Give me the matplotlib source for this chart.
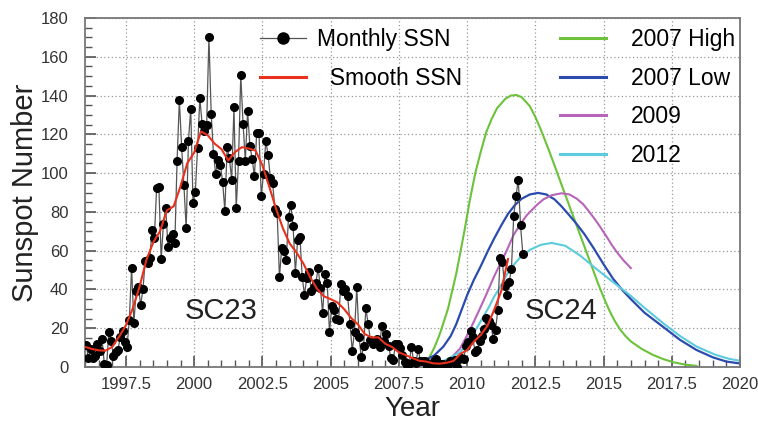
import numpy as np
import matplotlib
matplotlib.use("Agg")
import matplotlib.pyplot as plt
from matplotlib.lines import Line2D
from matplotlib.ticker import MultipleLocator

plt.rcParams["font.family"] = ["Liberation Sans", "DejaVu Sans"]

# === DATA ===
# monthly sunspot number, Jan 1996 .. Jan 2012
ssn_start = 1996
ssn_monthly = [
    11.5, 4.4, 9.2, 4.8, 5.5, 11.8, 8.2, 14.4, 1.6, 0.9, 17.9, 13.3,          # 1996
    5.7, 7.6, 8.7, 15.5, 18.5, 12.7, 10.4, 24.4, 51.3, 22.8, 39.0, 41.2,      # 1997
    31.9, 40.3, 54.8, 53.4, 56.3, 70.7, 66.6, 92.2, 92.9, 55.5, 74.0, 81.9,   # 1998
    62.0, 66.3, 68.8, 63.7, 106.4, 137.7, 113.5, 93.7, 71.5, 116.7, 133.2, 84.6,  # 1999
    90.1, 112.9, 138.5, 125.5, 121.6, 124.9, 170.1, 130.5, 109.7, 99.4, 106.8, 104.4,  # 2000
    95.6, 80.6, 113.5, 107.7, 96.6, 134.0, 81.8, 106.4, 150.7, 125.5, 106.5, 132.2,  # 2001
    114.1, 107.4, 98.4, 120.7, 120.8, 88.3, 99.6, 116.4, 109.6, 97.5, 95.0, 81.6,  # 2002
    79.5, 46.2, 61.5, 60.0, 55.2, 77.4, 83.3, 72.7, 48.7, 65.5, 67.3, 46.5,   # 2003
    37.3, 45.8, 49.1, 39.3, 41.5, 43.2, 51.1, 40.9, 27.7, 48.0, 43.5, 17.9,   # 2004
    31.3, 29.2, 24.5, 24.2, 42.7, 39.3, 40.1, 36.4, 22.1, 8.5, 18.0, 41.2,    # 2005
    15.3, 4.9, 10.6, 30.2, 22.3, 13.9, 12.0, 12.9, 14.4, 10.5, 21.4, 13.6,    # 2006
    16.9, 10.6, 4.8, 3.7, 11.7, 12.0, 10.0, 6.2, 2.4, 0.9, 1.7, 10.1,         # 2007
    3.3, 2.1, 9.3, 2.9, 2.9, 3.1, 0.5, 0.5, 1.1, 2.9, 4.1, 0.8,               # 2008
    1.5, 1.4, 0.7, 1.2, 2.9, 2.6, 3.5, 0.0, 4.2, 4.6, 4.2, 10.6,              # 2009
    13.1, 18.6, 15.4, 7.9, 8.8, 13.5, 16.1, 19.6, 25.2, 23.5, 21.6, 14.5,     # 2010
    19.0, 29.4, 56.2, 54.4, 41.6, 37.0, 43.9, 50.6, 78.0, 88.0, 96.7, 73.0,   # 2011
    58.3,                                                                     # 2012
]

# smoothed SSN
smooth_year = [1996.0, 1996.25, 1996.5, 1996.75, 1997.0, 1997.25, 1997.5, 1997.75,
               1998.0, 1998.25, 1998.5, 1998.75, 1999.0, 1999.25, 1999.5, 1999.75,
               2000.0, 2000.25, 2000.5, 2000.75, 2001.0, 2001.25, 2001.5, 2001.75,
               2002.0, 2002.25, 2002.5, 2002.75, 2003.0, 2003.25, 2003.5, 2003.75,
               2004.0, 2004.25, 2004.5, 2004.75, 2005.0, 2005.25, 2005.5, 2005.75,
               2006.0, 2006.25, 2006.5, 2006.75, 2007.0, 2007.25, 2007.5, 2007.75,
               2008.0, 2008.25, 2008.5, 2008.75, 2009.0, 2009.25, 2009.5, 2009.75,
               2010.0, 2010.25, 2010.5, 2010.75, 2011.0, 2011.25, 2011.5]
smooth_ssn = [10.4, 9.3, 8.6, 8.4, 10.4, 15.6, 21.5, 30.2,
              41.4, 55.2, 64.2, 70.1, 80.7, 82.9, 93.2, 105.2,
              110.6, 121.5, 119.5, 115.2, 112.4, 106.5, 110.9, 113.4,
              112.7, 111.6, 104.1, 93.1, 81.6, 71.6, 63.7, 59.1,
              53.4, 46.3, 40.4, 36.5, 35.0, 33.3, 29.8, 25.3,
              22.0, 17.0, 15.2, 15.3, 12.0, 10.3, 7.6, 6.1,
              4.6, 3.2, 2.8, 1.9, 1.7, 2.2, 3.1, 6.7,
              8.7, 13.1, 16.5, 21.3, 29.8, 39.1, 55.7]

# predictions
high07_year = [2008.0, 2008.35, 2008.6, 2008.8, 2009.0, 2009.3, 2009.6, 2009.9, 2010.1,
               2010.3, 2010.5, 2010.7, 2010.9, 2011.1, 2011.4, 2011.6, 2011.8, 2012.0,
               2012.3, 2012.5, 2012.7, 2012.95, 2013.15, 2013.5, 2014.0, 2014.5,
               2014.8, 2015.0, 2015.2, 2015.4, 2015.6, 2015.8, 2016.0, 2016.4, 2016.8,
               2017.2, 2017.6, 2018.0, 2018.4]
high07_ssn = [0.8, 1.5, 4.5, 10, 17, 30, 48, 70, 86,
              100, 111, 121, 128, 133.5, 138.3, 140, 140.3, 139.2,
              134.5, 129, 122.5, 113.5, 106, 92.5, 73.5, 54.5,
              43, 36, 29.5, 24, 19.5, 16, 13.2, 9.3, 6.3,
              4, 2.3, 1.2, 0.6]

low07_year = [2007.7, 2008.0, 2008.4, 2008.8, 2009.13, 2009.4, 2009.6, 2009.8, 2010.0,
              2010.25, 2010.5, 2010.75, 2011.0, 2011.25, 2011.5, 2011.75, 2012.0, 2012.3,
              2012.6, 2012.9, 2013.2, 2013.45, 2013.7, 2014.0, 2014.3, 2014.65, 2015.0,
              2015.35, 2015.7, 2016.0, 2016.5, 2017.2, 2017.8, 2018.4, 2019.0, 2019.5,
              2020.0]
low07_ssn = [4, 2.5, 3, 6, 10.5, 16, 22, 29.5, 37,
             45, 52, 59.5, 66.5, 73, 79, 83.5, 86.8, 89,
             89.8, 89, 86.5, 83, 79, 74, 68.5, 61, 53,
             45.5, 39.5, 35, 28, 20.5, 14, 8.8, 5, 2.8,
             1.8]

p2009_year = [2008.6, 2009.0, 2009.4, 2009.74, 2010.1, 2010.4, 2010.66, 2011.0, 2011.45,
              2011.7, 2011.94, 2012.2, 2012.55, 2012.8, 2013.1, 2013.46, 2013.75, 2014.02,
              2014.25, 2014.45, 2014.65, 2014.87, 2015.1, 2015.3, 2015.5, 2015.73, 2016.0]
p2009_ssn = [1.2, 2, 4.5, 9.5, 19, 28, 36, 47, 60,
             68, 73.5, 78.5, 83.5, 86.5, 88.6, 89.6, 89, 86.8,
             84, 80.5, 76.8, 72.4, 67.5, 63, 59, 55, 51]

p2012_year = [2008.0, 2008.3, 2008.64, 2009.2, 2009.74, 2010.05, 2010.35, 2010.6, 2010.84,
              2011.0, 2011.2, 2011.45, 2011.7, 2011.94, 2012.31, 2012.7, 2013.1, 2013.6,
              2014.14, 2014.7, 2015.24, 2015.97, 2016.5, 2017.19, 2017.8, 2018.41, 2019.1,
              2019.6, 2020.0]
p2012_ssn = [2.5, 1.8, 1.9, 3.5, 7.5, 13, 20, 26, 32,
             36.5, 41, 47.5, 52.5, 56.5, 60.5, 63, 64, 62.5,
             57.5, 51, 45, 37, 30.5, 22.5, 16, 10.5, 6.3,
             4.2, 3.2]

x_ticks = [1997.5, 2000, 2002.5, 2005, 2007.5, 2010, 2012.5, 2015, 2017.5, 2020]
x_tick_labels = ["1997.5", "2000", "2002.5", "2005", "2007.5",
                 "2010", "2012.5", "2015", "2017.5", "2020"]

# === PLOT ===
fig = plt.figure(figsize=(7.58, 4.23), dpi=100)
ax = fig.add_axes([0.1121, 0.1324, 0.8642, 0.825])

months = ssn_start + (np.arange(len(ssn_monthly)) + 0.5) / 12.0

ax.plot(high07_year, high07_ssn, color="#6cc23a", lw=1.5, zorder=2)
ax.plot(low07_year, low07_ssn, color="#2b4cae", lw=1.6, zorder=2)
ax.plot(p2009_year, p2009_ssn, color="#b665b9", lw=1.5, zorder=2)
ax.plot(p2012_year, p2012_ssn, color="#5ccbdc", lw=1.5, zorder=2)

ax.plot(months, ssn_monthly, color="#555555", lw=0.9, marker="o", ms=5.5,
        mfc="black", mec="black", zorder=3)
ax.plot(smooth_year, smooth_ssn, color="#e8301c", lw=1.5, zorder=4)

ax.set_xlim(1996, 2020)
ax.set_ylim(0, 180)
ax.set_xticks(x_ticks)
ax.set_xticklabels(x_tick_labels)
ax.xaxis.set_minor_locator(MultipleLocator(0.5))
ax.yaxis.set_major_locator(MultipleLocator(20))
ax.yaxis.set_minor_locator(MultipleLocator(5))

ax.grid(True, which="major", color="#999999", linestyle=(0, (1, 2)), lw=0.9)
ax.set_axisbelow(True)
ax.tick_params(which="both", direction="in", top=False, right=False,
               colors="#555555", labelcolor="#333333")
ax.tick_params(which="major", length=8, width=1.2, labelsize=12)
ax.tick_params(which="minor", length=5, width=1)
ax.tick_params(axis="y", pad=12)
ax.tick_params(axis="x", pad=7)
for sp in ax.spines.values():
    sp.set_color("#777777")
    sp.set_linewidth(1.3)

ax.set_ylabel("Sunspot Number", fontsize=21, color="#222222", labelpad=1)
ax.set_xlabel("Year", fontsize=20, color="#222222", labelpad=3)

ax.text(2001.0, 29, "SC23", fontsize=21, ha="center", va="center", color="#222222")
ax.text(2013.45, 29, "SC24", fontsize=21, ha="center", va="center", color="#222222")

h1 = [Line2D([], [], color="#555555", lw=0.9, marker="o", ms=8, mfc="black", mec="black"),
      Line2D([], [], color="#e8301c", lw=2.2)]
leg1 = ax.legend(h1, ["Monthly SSN", "  Smooth SSN"], loc="upper left",
                 bbox_to_anchor=(0.267, 0.971), frameon=False, fontsize=16.5,
                 handlelength=2.0, handletextpad=0.5, labelspacing=0.68,
                 borderpad=0, borderaxespad=0)
ax.add_artist(leg1)

h2 = [Line2D([], [], color="#6cc23a", lw=2.2),
      Line2D([], [], color="#2b4cae", lw=2.2),
      Line2D([], [], color="#b665b9", lw=2.2),
      Line2D([], [], color="#5ccbdc", lw=2.2)]
ax.legend(h2, ["2007 High", "2007 Low", "2009", "2012"], loc="upper left",
          bbox_to_anchor=(0.725, 0.971), frameon=False, fontsize=16.5,
          handlelength=2.0, handletextpad=1.1, labelspacing=0.68,
          borderpad=0, borderaxespad=0)

fig.savefig("out.png", dpi=100)
